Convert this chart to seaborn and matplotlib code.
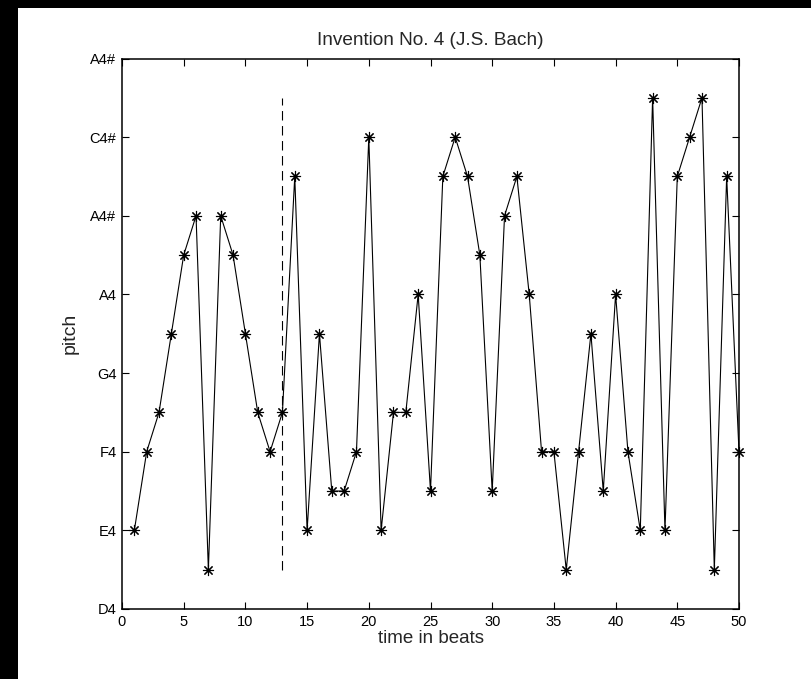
import matplotlib
matplotlib.use("Agg")
import matplotlib.pyplot as plt
import seaborn as sns
import pandas as pd
from matplotlib.patches import Rectangle

# Data (pitch in tick units: D4=0, E4=1, F4=2, G4=3, A4=4, A4#=5, C4#=6, A4#=7)
beats = list(range(1, 51))
pitch = [1, 2, 2.5, 3.5, 4.5, 5, 0.5, 5, 4.5, 3.5,
         2.5, 2, 2.5, 5.5, 1, 3.5, 1.5, 1.5, 2, 6,
         1, 2.5, 2.5, 4, 1.5, 5.5, 6, 5.5, 4.5, 1.5,
         5, 5.5, 4, 2, 2, 0.5, 2, 3.5, 1.5, 4,
         2, 1, 6.5, 1, 5.5, 6, 6.5, 0.5, 5.5, 2]
ytick_vals = [0, 1, 2, 3, 4, 5, 6, 7]
ytick_labels = ["D4", "E4", "F4", "G4", "A4", "A4#", "C4#", "A4#"]
xtick_vals = list(range(0, 51, 5))
divider_x = [13, 13]
divider_y = [0.5, 6.5]

sns.set_style("ticks")
plt.rcParams['font.family'] = ['Liberation Sans', 'DejaVu Sans']

fig = plt.figure(figsize=(8.11, 6.79), dpi=100)
fig.patch.set_facecolor("white")
# black strips at left and top edges
fig.patches.append(Rectangle((0, 0), 18/811, 1, transform=fig.transFigure,
                             facecolor="black", edgecolor="none", zorder=-1))
fig.patches.append(Rectangle((0, 1 - 8/679), 1, 8/679, transform=fig.transFigure,
                             facecolor="black", edgecolor="none", zorder=-1))

ax = fig.add_axes([122/811, 1 - 609/679, (739 - 122)/811, (609 - 58.5)/679])

df = pd.DataFrame({"beat": beats, "pitch": pitch})
sns.lineplot(data=df, x="beat", y="pitch", ax=ax, color="black", linewidth=0.8,
             marker=(8, 2, 0), markersize=8, markeredgewidth=0.8,
             markeredgecolor="black", markerfacecolor="black", clip_on=False)
ax.plot(divider_x, divider_y, color="black", linewidth=0.8, linestyle=(0, (8.5, 5)))

ax.set_xlim(0, 50)
ax.set_ylim(0, 7)
ax.set_xticks(xtick_vals)
ax.set_yticks(ytick_vals)
ax.set_yticklabels(ytick_labels)
ax.tick_params(direction="in", length=5, width=0.8, top=True, right=True,
               labelsize=10.5, colors="black", pad=4)
for s in ax.spines.values():
    s.set_visible(True)
    s.set_linewidth(1.1)
    s.set_color("black")

ax.set_title("Invention No. 4 (J.S. Bach)", fontsize=13.7, pad=10)
ax.set_xlabel("time in beats", fontsize=13.5, labelpad=1)
ax.set_ylabel("pitch", fontsize=14, labelpad=8)

fig.savefig("out.png", dpi=100)
